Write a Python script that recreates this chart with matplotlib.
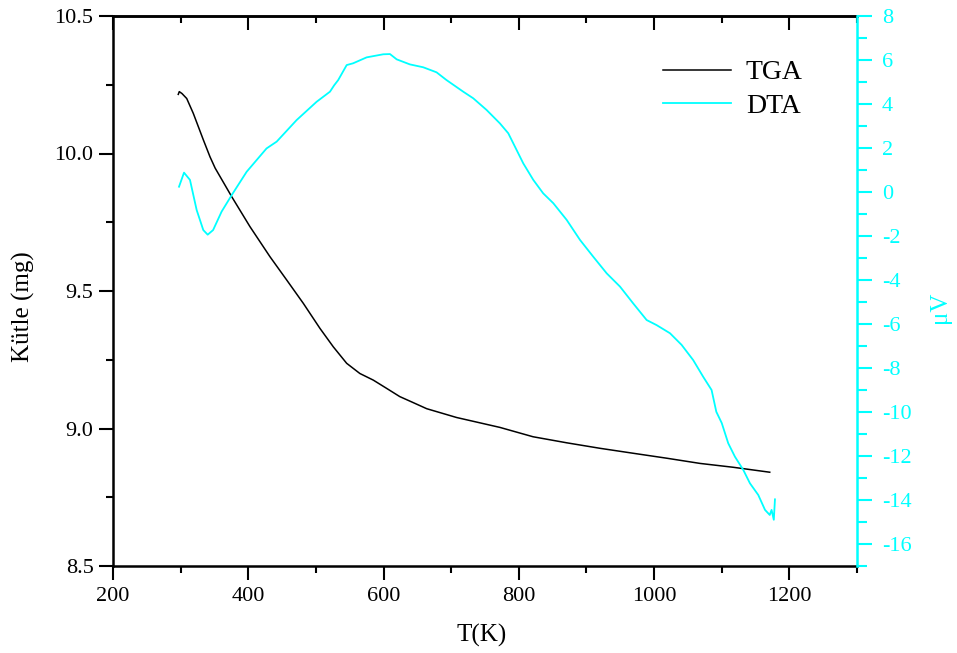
import matplotlib
matplotlib.use("Agg")
import matplotlib.pyplot as plt
from matplotlib.ticker import MultipleLocator, FormatStrFormatter

plt.rcParams['font.family'] = ['Liberation Serif', 'DejaVu Serif']
plt.rcParams['axes.unicode_minus'] = False

# TGA data (mass, mg)
tga_T = [296.5, 298, 302, 309, 318.7, 333.5, 343.4, 351, 375.5, 402.5, 432, 456.8,
         481.4, 506, 525.7, 545.5, 565, 584.8, 604.5, 624, 644, 663.8, 708, 772,
         821, 870.8, 920, 969, 1018.6, 1068, 1117, 1171]
tga_m = [10.215, 10.225, 10.218, 10.20, 10.146, 10.05, 9.988, 9.947, 9.843, 9.734,
         9.625, 9.54, 9.455, 9.364, 9.297, 9.237, 9.20, 9.176, 9.146, 9.116, 9.094,
         9.072, 9.04, 9.004, 8.97, 8.948, 8.928, 8.91, 8.892, 8.873, 8.859, 8.841]

# DTA data (microvolt)
dta_T = [297.6, 305, 313.8, 323.7, 333.5, 340, 348, 360.6, 375.5, 397.6, 427, 442,
         471.5, 501, 520.8, 527, 533, 545.5, 555, 575, 599.6, 609.5, 619.4, 639,
         658.6, 678.4, 693, 717.8, 732.6, 752.3, 772, 784.4, 794.3, 806.6, 821.4,
         836, 851, 870.8, 890.5, 910, 930, 949.6, 969, 989, 1003.7, 1023.5, 1040.7,
         1057.8, 1072.6, 1085, 1092, 1100, 1109.6, 1119.5, 1132, 1141.7, 1154, 1164,
         1171, 1173.7, 1177, 1178.7]
dta_v = [0.24, 0.88, 0.55, -0.82, -1.73, -1.94, -1.73, -0.89, -0.14, 0.92, 1.98, 2.29,
         3.27, 4.1, 4.56, 4.85, 5.09, 5.77, 5.85, 6.12, 6.26, 6.27, 6.03, 5.8, 5.67,
         5.44, 5.09, 4.56, 4.26, 3.73, 3.12, 2.67, 2.06, 1.3, 0.55, -0.06, -0.51,
         -1.27, -2.18, -2.94, -3.7, -4.3, -5.06, -5.82, -6.05, -6.42, -6.95, -7.64,
         -8.4, -9.0, -9.99, -10.5, -11.42, -12.03, -12.64, -13.24, -13.77, -14.45,
         -14.68, -14.45, -14.9, -13.97]

CYAN = '#00FFFF'

fig = plt.figure(figsize=(9.57, 6.53), dpi=100)
ax = fig.add_axes([113/957, 87/653, 744/957, 550/653])

l1, = ax.plot(tga_T, tga_m, color='black', lw=1.1, label='TGA')
ax.set_xlim(200, 1300)
ax.set_ylim(8.5, 10.5)
ax.xaxis.set_major_locator(MultipleLocator(200))
ax.xaxis.set_minor_locator(MultipleLocator(100))
ax.yaxis.set_major_locator(MultipleLocator(0.5))
ax.yaxis.set_minor_locator(MultipleLocator(0.25))
ax.yaxis.set_major_formatter(FormatStrFormatter('%.1f'))
ax.tick_params(axis='both', which='major', direction='out', length=10, width=1.5,
               labelsize=16)
ax.tick_params(axis='both', which='minor', direction='out', length=5, width=1.5)
ax.tick_params(axis='x', pad=5)
ax.tick_params(axis='y', pad=4)
for s in ['left', 'bottom', 'top']:
    ax.spines[s].set_linewidth(1.8)
ax.spines['right'].set_visible(False)

# top axis: inward ticks, no labels
sec = ax.secondary_xaxis('top')
sec.xaxis.set_major_locator(MultipleLocator(200))
sec.xaxis.set_minor_locator(MultipleLocator(100))
sec.tick_params(which='major', direction='in', length=10, width=1.5, labeltop=False)
sec.tick_params(which='minor', direction='in', length=5, width=1.5)
sec.spines['top'].set_linewidth(1.8)

ax.set_xlabel('T(K)', fontsize=18)
ax.xaxis.set_label_coords(0.496, -0.105)
ax.set_ylabel('Kütle (mg)', fontsize=18)
ax.yaxis.set_label_coords(-0.105, 0.471)

ax2 = ax.twinx()
l2, = ax2.plot(dta_T, dta_v, color=CYAN, lw=1.3, label='DTA')
ax2.set_ylim(-17, 8)
ax2.yaxis.set_major_locator(MultipleLocator(2))
ax2.yaxis.set_minor_locator(MultipleLocator(1))
ax2.tick_params(axis='y', which='major', direction='out', length=11, width=1.5,
                colors=CYAN, labelsize=16, pad=7)
ax2.tick_params(axis='y', which='minor', direction='out', length=7, width=1.5,
                colors=CYAN)
for s in ['left', 'bottom', 'top']:
    ax2.spines[s].set_visible(False)
ax2.spines['right'].set_color(CYAN)
ax2.spines['right'].set_linewidth(1.8)
ax2.set_ylabel('μV', fontsize=18, color=CYAN)
ax2.yaxis.set_label_coords(1.097, 0.47)

ax2.legend([l1, l2], ['TGA', 'DTA'], loc='upper left',
           bbox_to_anchor=(0.739, 0.92), frameon=False, fontsize=20,
           handlelength=2.45, handletextpad=0.54, labelspacing=0.29,
           borderpad=0, borderaxespad=0)

fig.savefig('out.png', dpi=100)
